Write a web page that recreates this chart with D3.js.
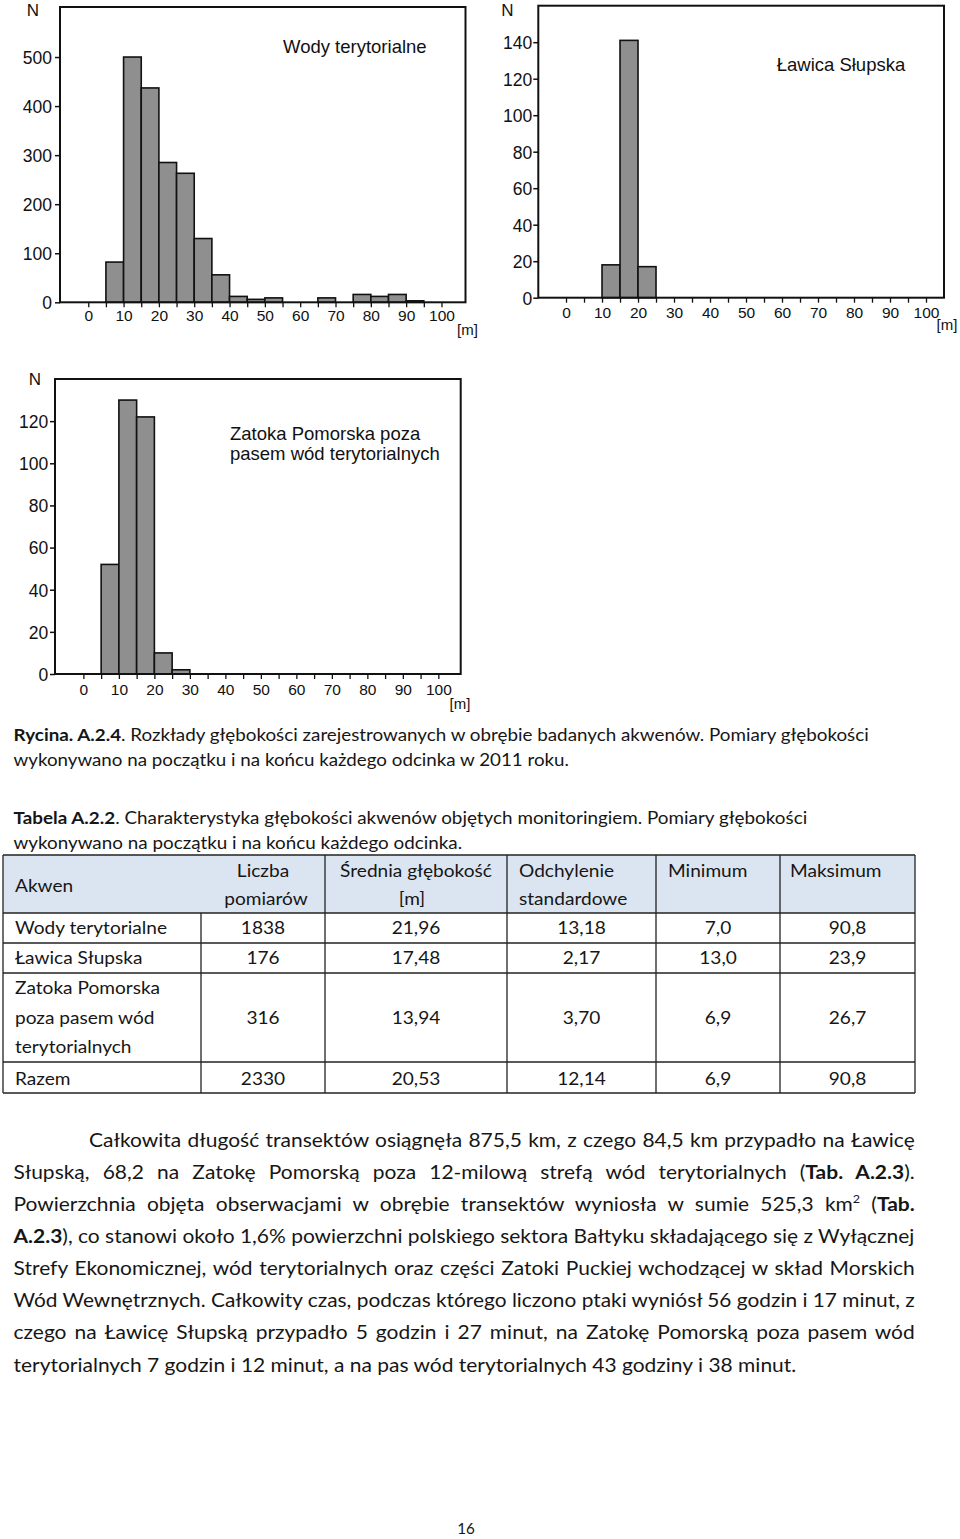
<!DOCTYPE html>
<html><head><meta charset="utf-8">
<script src="https://cdn.jsdelivr.net/npm/d3@7"></script>
<style>
html,body{margin:0;padding:0;background:#fff;}
svg{display:block;}
</style></head>
<body>
<svg id="page" width="960" height="1539"></svg>
<script>
// ---------------- DATA ----------------
const binStarts = [0,5,10,15,20,25,30,35,40,45,50,55,60,65,70,75,80,85,90,95];
const binWidth = 5;
const wodyCounts   = [0,82,500,437,285,263,130,56,12,6,9,0,0,9,0,16,12,16,3,0];
const lawicaCounts = [0,0,18,141,17,0,0,0,0,0,0,0,0,0,0,0,0,0,0,0];
const zatokaCounts = [0,52,130,122,10,2,0,0,0,0,0,0,0,0,0,0,0,0,0,0];
const xTickMarks  = [0,5,10,15,20,25,30,35,40,45,50,55,60,65,70,75,80,85,90,95,100];
const xTickLabels = [0,10,20,30,40,50,60,70,80,90,100];
const wodyYTicks   = [0,100,200,300,400,500];
const lawicaYTicks = [0,20,40,60,80,100,120,140];
const zatokaYTicks = [0,20,40,60,80,100,120];
const chartTitles = [["Wody terytorialne"],["Ławica Słupska"],["Zatoka Pomorska poza","pasem wód terytorialnych"]];

const tableHeaderCols = [["Akwen"],["Liczba","pomiarów"],["Średnia głębokość","[m]"],["Odchylenie","standardowe"],["Minimum"],["Maksimum"]];
const akwenNames = [["Wody terytorialne"],["Ławica Słupska"],["Zatoka Pomorska","poza pasem wód","terytorialnych"],["Razem"]];
const liczbaPomiarow   = ["1838","176","316","2330"];
const sredniaGlebokosc = ["21,96","17,48","13,94","20,53"];
const odchylenieStd    = ["13,18","2,17","3,70","12,14"];
const minimumVals      = ["7,0","13,0","6,9","6,9"];
const maksimumVals     = ["90,8","23,9","26,7","90,8"];

const captionLines = [
  [{t:"Rycina. A.2.4", b:true},{t:". Rozkłady głębokości zarejestrowanych w obrębie badanych akwenów. Pomiary głębokości"}],
  [{t:"wykonywano na początku i na końcu każdego odcinka w 2011 roku."}]
];
const tabelaLines = [
  [{t:"Tabela A.2.2", b:true},{t:". Charakterystyka głębokości akwenów objętych monitoringiem. Pomiary głębokości"}],
  [{t:"wykonywano na początku i na końcu każdego odcinka."}]
];
const paragraphLines = [
  [{t:"Całkowita długość transektów osiągnęła 875,5 km, z czego 84,5 km przypadło na Ławicę"}],
  [{t:"Słupską, 68,2 na Zatokę Pomorską poza 12-milową strefą wód terytorialnych ("},{t:"Tab. A.2.3", b:true},{t:")."}],
  [{t:"Powierzchnia objęta obserwacjami w obrębie transektów wyniosła w sumie 525,3 km"},{t:"2", sup:true},{t:" ("},{t:"Tab.", b:true}],
  [{t:"A.2.3", b:true},{t:"), co stanowi około 1,6% powierzchni polskiego sektora Bałtyku składającego się z Wyłącznej"}],
  [{t:"Strefy Ekonomicznej, wód terytorialnych oraz części Zatoki Puckiej wchodzącej w skład Morskich"}],
  [{t:"Wód Wewnętrznych. Całkowity czas, podczas którego liczono ptaki wyniósł 56 godzin i 17 minut, z"}],
  [{t:"czego na Ławicę Słupską przypadło 5 godzin i 27 minut, na Zatokę Pomorską poza pasem wód"}],
  [{t:"terytorialnych 7 godzin i 12 minut, a na pas wód terytorialnych 43 godziny i 38 minut."}]
];
const pageNumber = "16";

// ---------------- RENDER ----------------
const svg = d3.select("#page");
const AX_FONT = "'Liberation Sans', Arial, sans-serif";
const BODY = "Lato, 'Noto Sans', sans-serif";
const INK = "#161616";

const charts = [
  {counts:wodyCounts, yTicks:wodyYTicks, yMax:602, xDomain:[-8,106.8],
   frame:{l:60,r:465.5,t:7,b:302.3}, yPad:3, xLabelBase:321.5,
   title:chartTitles[0], titleX:283, titleY:[52.5], nPos:[33,16], mPos:[467.5,335]},
  {counts:lawicaCounts, yTicks:lawicaYTicks, yMax:160, xDomain:[-7.7,105],
   frame:{l:538.3,r:944,t:5.7,b:297.7}, yPad:1, xLabelBase:318.3,
   title:chartTitles[1], titleX:776.7, titleY:[71], nPos:[507.5,16], mPos:[947,330]},
  {counts:zatokaCounts, yTicks:zatokaYTicks, yMax:140, xDomain:[-8,106.3],
   frame:{l:55,r:460.7,t:379,b:674}, yPad:1.7, xLabelBase:695,
   title:chartTitles[2], titleX:230, titleY:[440,460], nPos:[35,385], mPos:[460,709]}
];

function drawHist(cfg){
  const g = svg.append("g");
  const f = cfg.frame;
  const x = d3.scaleLinear().domain(cfg.xDomain).range([f.l, f.r]);
  const y = d3.scaleLinear().domain([0, cfg.yMax]).range([f.b, f.t]);
  const bins = binStarts.map((s,i)=>({x0:s, x1:s+binWidth, n:cfg.counts[i]})).filter(d=>d.n>0);
  g.selectAll("rect.bar").data(bins).join("rect").attr("class","bar")
    .attr("x", d=>x(d.x0)).attr("width", d=>x(d.x1)-x(d.x0))
    .attr("y", d=>y(d.n)).attr("height", d=>y(0)-y(d.n))
    .attr("fill","#8f8f8f").attr("stroke","#111").attr("stroke-width",1.6);
  g.append("rect").attr("x",f.l).attr("y",f.t).attr("width",f.r-f.l).attr("height",f.b-f.t)
    .attr("fill","none").attr("stroke","#111").attr("stroke-width",2);
  const ya = g.append("g").attr("transform",`translate(${f.l},0)`)
    .call(d3.axisLeft(y).tickValues(cfg.yTicks).tickSize(5).tickPadding(cfg.yPad).tickFormat(d3.format("d")));
  ya.select(".domain").remove();
  ya.selectAll("line").attr("stroke","#111").attr("stroke-width",1.5);
  ya.selectAll("text").attr("font-family",AX_FONT).attr("font-size",17.5).attr("fill","#111").attr("dy","0.36em");
  const xa = g.append("g").attr("transform",`translate(0,${f.b})`)
    .call(d3.axisBottom(x).tickValues(xTickMarks).tickSize(5)
      .tickFormat(d => xTickLabels.includes(d) ? String(d) : ""));
  xa.select(".domain").remove();
  xa.selectAll("line").attr("stroke","#111").attr("stroke-width",1.3);
  xa.selectAll("text").attr("font-family",AX_FONT).attr("font-size",15.5).attr("fill","#111")
    .attr("y", cfg.xLabelBase - f.b).attr("dy", 0);
  cfg.title.forEach((line,i)=>{
    g.append("text").attr("x",cfg.titleX).attr("y",cfg.titleY[i]).text(line)
      .attr("font-family",AX_FONT).attr("font-size",18.5).attr("fill","#111");
  });
  g.append("text").attr("x",cfg.nPos[0]).attr("y",cfg.nPos[1]).text("N").attr("text-anchor","middle")
    .attr("font-family",AX_FONT).attr("font-size",17).attr("fill","#111");
  g.append("text").attr("x",cfg.mPos[0]).attr("y",cfg.mPos[1]).text("[m]").attr("text-anchor","middle")
    .attr("font-family",AX_FONT).attr("font-size",15).attr("fill","#111");
}
charts.forEach(drawHist);

// text helper
function textLine(parent, segs, o){
  const g = parent.append("g");
  const t = g.append("text").attr("font-family",BODY).attr("font-size",o.size)
    .attr("font-weight",400).attr("fill",INK).attr("text-anchor",o.anchor||"start");
  let pend = 0;
  segs.forEach(s=>{
    const ts = t.append("tspan").text(s.t);
    if (s.b) ts.attr("font-weight",700);
    if (s.sup){ ts.attr("font-size",o.size*0.6).attr("dy",-o.size*0.42); pend = o.size*0.42; }
    else if (pend){ ts.attr("dy",pend); pend = 0; }
  });
  const nat = t.node().getComputedTextLength();
  let k = o.k || 1;
  if (o.justify){
    const full = segs.map(s=>s.t).join("");
    const nSp = (full.match(/ /g)||[]).length;
    const extra = o.width/k - nat;
    if (extra > 0 && nSp) t.attr("word-spacing", extra/nSp);
    else k = o.width/nat;
  } else if (o.width){ k = o.width/nat; }
  g.attr("transform",`translate(${o.x},${o.y}) scale(${k},1)`);
  return {nat,k};
}

// captions
const capG = svg.append("g");
textLine(capG, captionLines[0], {x:13.5, y:741, size:17.5, width:856});
textLine(capG, captionLines[1], {x:13.5, y:766, size:17.5, width:556});
textLine(capG, tabelaLines[0], {x:13.5, y:823.5, size:17.5, width:794});
textLine(capG, tabelaLines[1], {x:13.5, y:848.5, size:17.5, width:449});

// table
const tG = svg.append("g");
const colX = [3,201,325,507,656,780,915];
const rowY = [855,913,943,973,1062,1093];
tG.append("rect").attr("x",colX[0]).attr("y",rowY[0]).attr("width",colX[6]-colX[0]).attr("height",rowY[1]-rowY[0]).attr("fill","#dbe5f1");
rowY.forEach(yy=>tG.append("line").attr("x1",colX[0]).attr("x2",colX[6]).attr("y1",yy).attr("y2",yy));
colX.forEach((xx,i)=>{
  const y1 = (i===1) ? rowY[1] : rowY[0];
  tG.append("line").attr("x1",xx).attr("x2",xx).attr("y1",y1).attr("y2",rowY[5]);
});
tG.selectAll("line").attr("stroke","#222").attr("stroke-width",1.3);

const probe = textLine(tG, [{t:akwenNames[0][0]}], {x:15, y:933.5, size:18, width:152});
const tk = probe.k;
textLine(tG,[{t:tableHeaderCols[0][0]}],{x:15,y:891.5,size:18,k:tk});
const colCenters = colX.slice(1,6).map((xx,i)=>(xx+colX[i+2])/2);
textLine(tG,[{t:tableHeaderCols[1][0]}],{x:colCenters[0],y:877,size:18,k:tk,anchor:"middle"});
textLine(tG,[{t:tableHeaderCols[1][1]}],{x:colCenters[0]+3,y:905,size:18,k:tk,anchor:"middle"});
textLine(tG,[{t:tableHeaderCols[2][0]}],{x:colCenters[1],y:877,size:18,k:tk,anchor:"middle"});
textLine(tG,[{t:tableHeaderCols[2][1]}],{x:colCenters[1]-4,y:905,size:18,k:tk,anchor:"middle"});
textLine(tG,[{t:tableHeaderCols[3][0]}],{x:519,y:877,size:18,k:tk});
textLine(tG,[{t:tableHeaderCols[3][1]}],{x:519,y:905,size:18,k:tk});
textLine(tG,[{t:tableHeaderCols[4][0]}],{x:668,y:877,size:18,k:tk});
textLine(tG,[{t:tableHeaderCols[5][0]}],{x:790,y:877,size:18,k:tk});
const rowBase = [933.5, 963.5, 1023.5, 1084.5];
akwenNames.forEach((lines,r)=>{
  if (r===0) return;
  const n = lines.length;
  lines.forEach((ln,j)=>{
    textLine(tG,[{t:ln}],{x:15,y:rowBase[r]+(j-(n-1)/2)*29.5,size:18,k:tk});
  });
});
const valueCols = [liczbaPomiarow, sredniaGlebokosc, odchylenieStd, minimumVals, maksimumVals];
valueCols.forEach((col,c)=>{
  col.forEach((v,r)=>{
    textLine(tG,[{t:v}],{x:colCenters[c],y:rowBase[r],size:18,k:tk,anchor:"middle"});
  });
});

// paragraph
const pG = svg.append("g");
const lastIdx = paragraphLines.length-1;
const pBase0 = 1146.5, pStep = 32.15;
const last = textLine(pG, paragraphLines[lastIdx], {x:13.5, y:pBase0+lastIdx*pStep, size:19.5, width:783});
paragraphLines.forEach((segs,i)=>{
  if (i===lastIdx) return;
  const x0 = i===0 ? 89 : 13.5;
  textLine(pG, segs, {x:x0, y:pBase0+i*pStep, size:19.5, k:last.k, justify:true, width:915-x0});
});

// page number
textLine(svg, [{t:pageNumber}], {x:466, y:1534, size:16, anchor:"middle", k:0.95});
</script>
</body></html>
